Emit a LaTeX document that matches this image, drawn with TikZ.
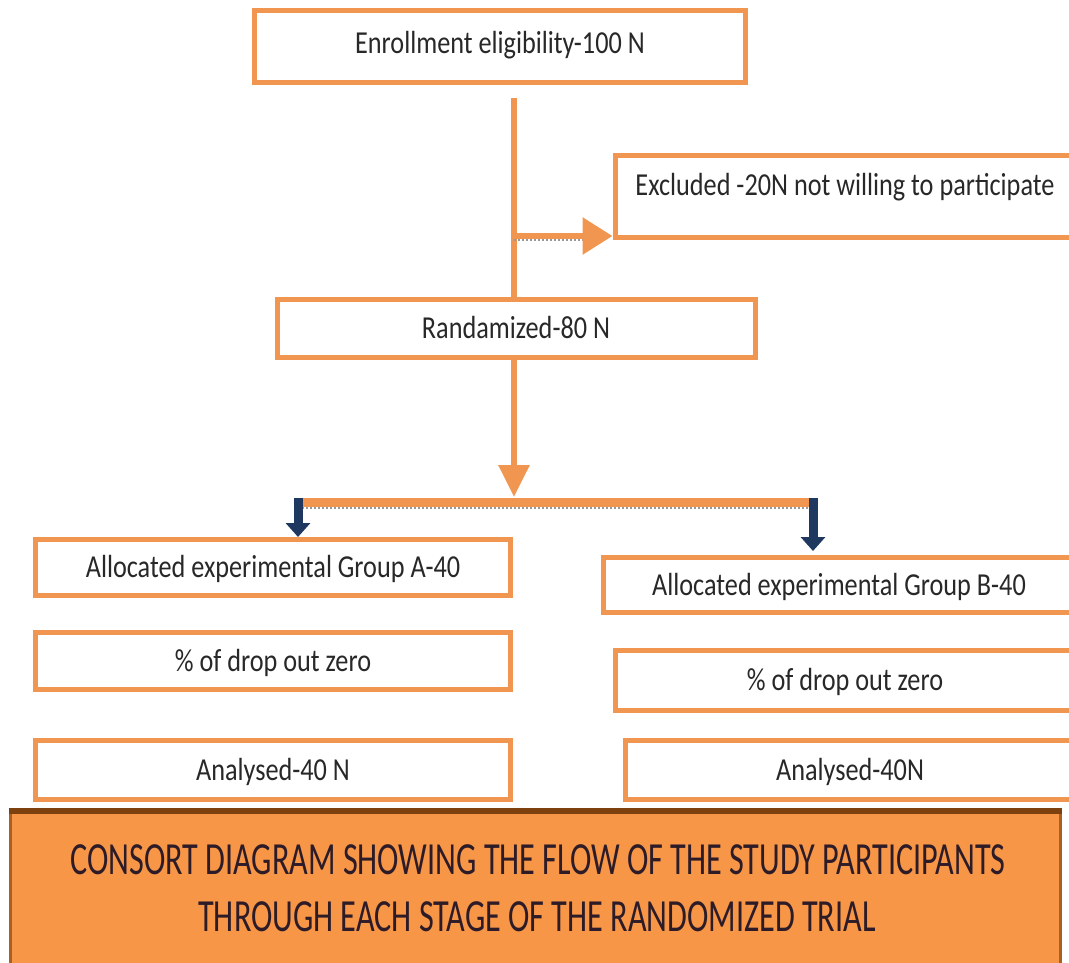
\documentclass[tikz,border=0pt]{standalone}
\usepackage{fontspec}
\setmainfont{Carlito}
\newfontfamily\boxfont[FakeStretch=0.82]{Carlito}
\newfontfamily\titlefont[FakeStretch=0.7]{Carlito}
\usetikzlibrary{arrows.meta}
\definecolor{orng}{RGB}{240,150,80}
\definecolor{navyb}{RGB}{31,56,96}
\definecolor{txtc}{RGB}{40,40,40}
\definecolor{fillor}{RGB}{247,150,70}
\definecolor{brownb}{RGB}{170,95,35}
\definecolor{darkbrown}{RGB}{125,65,15}
\definecolor{titletxt}{RGB}{45,28,40}
\begin{document}
\begin{tikzpicture}[x=1pt,y=-1pt,
  box/.style={draw=orng, line width=5pt, fill=white, inner sep=0pt,
    text height=20pt, text depth=0pt, text=txtc,
    font=\boxfont\fontsize{32}{38}\selectfont},
  flow/.style={draw=orng, line width=6pt},
  shadowline/.style={draw=gray!80, dotted, line width=2pt},
  bluearrow/.style={draw=navyb, line width=9pt, -{Triangle[length=14pt,width=24pt]}},
  titlebox/.style={fill=fillor, draw=brownb, line width=3pt, inner sep=0pt},
  titletext/.style={anchor=base, inner sep=0pt, text=titletxt,
    font=\titlefont\fontsize{46}{54}\selectfont}]
\useasboundingbox (0,0) rectangle (1069,962);
\clip (0,0) rectangle (1069,962);

% boxes
\node[box, minimum width=491pt, minimum height=72pt] (enroll) at (500,46.5)
  {\raisebox{3.5pt}{Enrollment eligibility-100 N}};
\node[box, minimum width=460pt, minimum height=82pt] (excl) at (845,196.5)
  {\raisebox{11.5pt}{Excluded -20N not willing to participate}};
\node[box, minimum width=478pt, minimum height=58pt] (rand) at (516,328.5)
  {Randamized-80 N};
\node[box, minimum width=475pt, minimum height=56pt] (grpA) at (273,567.5)
  {Allocated experimental Group A-40};
\node[box, minimum width=472pt, minimum height=55pt] (grpB) at (839,585)
  {Allocated experimental Group B-40};
\node[box, minimum width=475pt, minimum height=57pt] (dropA) at (273,661)
  {\% of drop out zero};
\node[box, minimum width=460pt, minimum height=60pt] (dropB) at (845,680.5)
  {\% of drop out zero};
\node[box, minimum width=475pt, minimum height=59pt] (anA) at (273,770)
  {Analysed-40 N};
\node[box, minimum width=450pt, minimum height=59pt] (anB) at (850,770)
  {Analysed-40N};

% title box
\node[titlebox, minimum width=1050pt, minimum height=153pt] (title) at (535,888.5) {};
\draw[darkbrown, line width=6pt] (title.north west) -- (title.north east);
\node[titletext] (t1) at (538,874) {CONSORT DIAGRAM SHOWING THE FLOW OF THE STUDY PARTICIPANTS};
\node[titletext] (t2) at (537,931) {THROUGH EACH STAGE OF THE RANDOMIZED TRIAL};

% connectors
\coordinate (vtop) at (514,98);
\coordinate (branch) at (514,236);
\coordinate (barmid) at (514,497);
\coordinate (barL) at (298,502);
\coordinate (barR) at (813,502);

\draw[flow] (vtop) -- (vtop |- rand.north);
\draw[shadowline] ([yshift=-4pt]branch) -- ([xshift=-30pt,yshift=-4pt]excl.west |- branch);
\draw[flow, -{Triangle[length=30pt,width=36pt]}] (branch) -- (excl.west |- branch);
\draw[flow, -{Triangle[length=32pt,width=30pt]}] (vtop |- rand.south) -- (barmid);
\draw[shadowline] ([yshift=-6pt]barL) -- ([yshift=-6pt]barR);
\draw[orng, line width=9pt] (barL) -- (barR);
\draw[bluearrow] ([yshift=4pt]barL) -- (barL |- grpA.north);
\draw[bluearrow] ([yshift=4pt]barR) -- ([yshift=4pt]barR |- grpB.north);
\end{tikzpicture}
\end{document}
